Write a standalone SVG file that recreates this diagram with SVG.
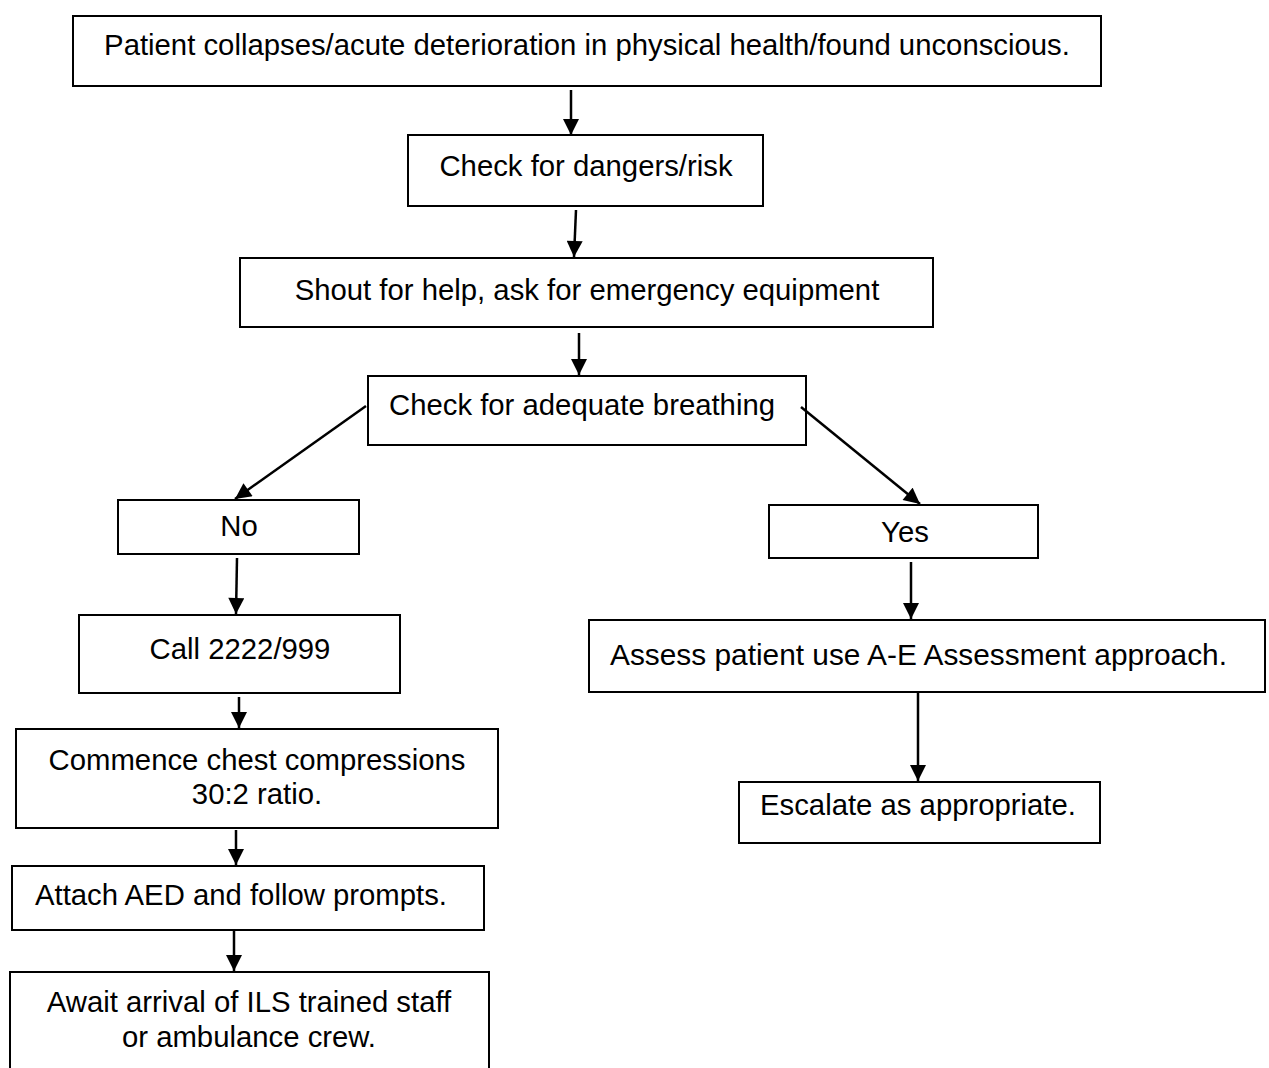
<svg xmlns="http://www.w3.org/2000/svg" width="1269" height="1068" viewBox="0 0 1269 1068">
<defs>
<style>
.b{fill:#fff;stroke:#000;stroke-width:2}
.t{font-family:"Liberation Sans",Arial,sans-serif;font-size:29.3px;fill:#000}
.c{text-anchor:middle}
.a{stroke:#000;stroke-width:2.5;fill:none;marker-end:url(#ah)}
</style>
<marker id="ah" viewBox="0 0 10 10" refX="10" refY="5" markerWidth="17" markerHeight="16" markerUnits="userSpaceOnUse" orient="auto">
<path d="M0,0L10,5L0,10z" fill="#000"/>
</marker>
</defs>
<rect width="1269" height="1068" fill="#fff"/>
<g id="n1"><rect class="b" x="73" y="16" width="1028" height="70"/><text class="t c" x="587" y="55">Patient collapses/acute deterioration in physical health/found unconscious.</text></g>
<g id="n2"><rect class="b" x="408" y="135" width="355" height="71"/><text class="t c" x="586" y="176">Check for dangers/risk</text></g>
<g id="n3"><rect class="b" x="240" y="258" width="693" height="69"/><text class="t c" x="587" y="300">Shout for help, ask for emergency equipment</text></g>
<g id="n4"><rect class="b" x="368" y="376" width="438" height="69"/><text class="t" x="389" y="415">Check for adequate breathing</text></g>
<g id="n5"><rect class="b" x="118" y="500" width="241" height="54"/><text class="t c" x="239" y="536">No</text></g>
<g id="n6"><rect class="b" x="769" y="505" width="269" height="53"/><text class="t c" x="905" y="542">Yes</text></g>
<g id="n7"><rect class="b" x="79" y="615" width="321" height="78"/><text class="t c" x="240" y="659">Call 2222/999</text></g>
<g id="n8"><rect class="b" x="589" y="620" width="676" height="72"/><text class="t" x="610" y="665" textLength="617" lengthAdjust="spacingAndGlyphs">Assess patient use A-E Assessment approach.</text></g>
<g id="n9"><rect class="b" x="739" y="782" width="361" height="61"/><text class="t" x="760" y="815">Escalate as appropriate.</text></g>
<g id="n10"><rect class="b" x="16" y="729" width="482" height="99"/><text class="t c" x="257" y="770">Commence chest compressions</text><text class="t c" x="257" y="804">30:2 ratio.</text></g>
<g id="n11"><rect class="b" x="12" y="866" width="472" height="64"/><text class="t" x="35" y="905">Attach AED and follow prompts.</text></g>
<g id="n12"><rect class="b" x="10" y="972" width="479" height="110"/><text class="t c" x="249" y="1012">Await arrival of ILS trained staff</text><text class="t c" x="249" y="1047">or ambulance crew.</text></g>
<g id="connectors">
<line class="a" x1="571" y1="90" x2="571" y2="135"/>
<line class="a" x1="576" y1="210" x2="574" y2="257"/>
<line class="a" x1="579" y1="333" x2="579" y2="375"/>
<line class="a" x1="366" y1="406" x2="235" y2="499"/>
<line class="a" x1="801" y1="407" x2="920" y2="504"/>
<line class="a" x1="237" y1="558" x2="236" y2="614"/>
<line class="a" x1="911" y1="562" x2="911" y2="619"/>
<line class="a" x1="918" y1="693" x2="918" y2="781"/>
<line class="a" x1="239" y1="697" x2="239" y2="728"/>
<line class="a" x1="236" y1="830" x2="236" y2="865"/>
<line class="a" x1="234" y1="931" x2="234" y2="971"/>
</g>
</svg>
